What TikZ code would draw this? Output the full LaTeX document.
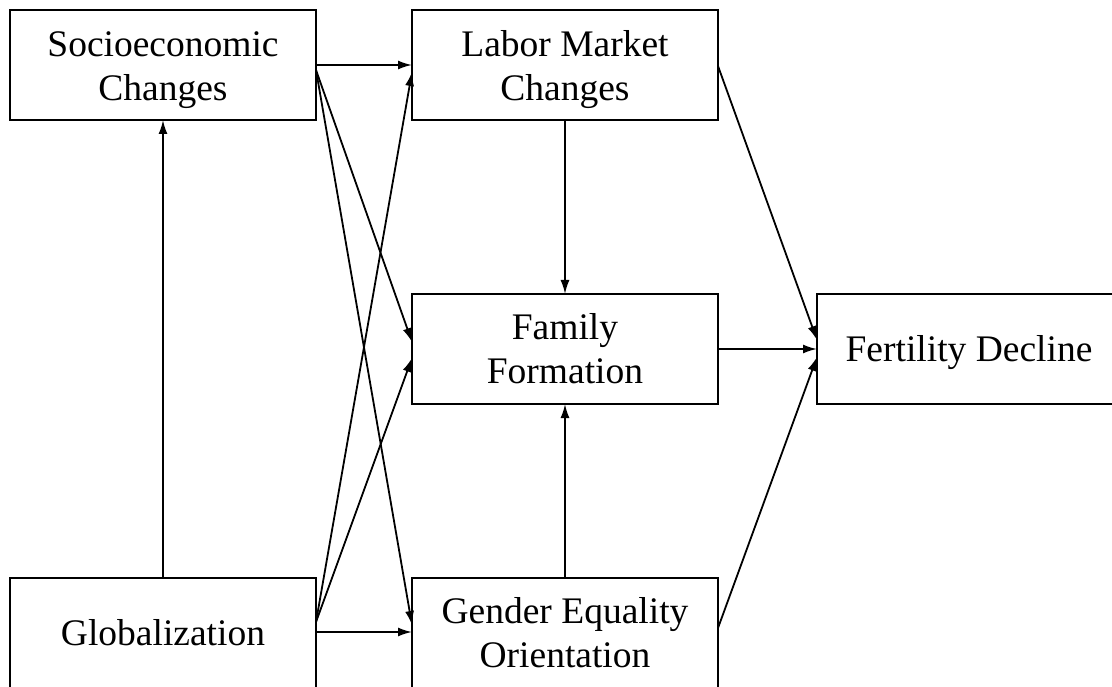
\documentclass[tikz,border=0pt]{standalone}
\usepackage{fontspec}
\setmainfont{Liberation Serif}
\usetikzlibrary{arrows.meta}
\begin{document}
\begin{tikzpicture}[x=1pt,y=-1pt,
  box/.style={draw,line width=2pt,minimum width=306pt,minimum height=110pt,inner sep=0pt,outer sep=0pt},
  boxtext/.style={align=center,inner sep=0pt,font=\fontsize{37.5}{44}\selectfont},
  arr/.style={line width=1.8pt,-{Latex[length=14pt,width=9pt]}}]
\clip (0,0) rectangle (1112,687);
\useasboundingbox (0,0) rectangle (1112,687);
\node[box,label={[boxtext,yshift=-5pt]center:Socioeconomic\\Changes}] (soc) at (163,65) {};
\node[box,label={[boxtext,yshift=-5pt]center:Labor Market\\Changes}] (lab) at (565,65) {};
\node[box,label={[boxtext]center:Family\\Formation}] (fam) at (565,349) {};
\node[box,minimum width=304pt,label={[boxtext,yshift=-4pt]center:Fertility Decline}] (fer) at (969,349) {};
\node[box,label={[boxtext]center:Globalization}] (glo) at (163,633) {};
\node[box,label={[boxtext]center:Gender Equality\\Orientation}] (gen) at (565,633) {};
\draw[arr] (soc.east) -- (lab.west);
\draw[arr] ([yshift=-5pt]soc.east) -- ([yshift=7pt]fam.west);
\draw[arr] ([yshift=-5pt]soc.east) -- ([yshift=8pt]gen.west);
\draw[arr] ([yshift=11pt]glo.east) -- ([yshift=-7pt]lab.west);
\draw[arr] ([yshift=11pt]glo.east) -- ([yshift=-9pt]fam.west);
\draw[arr] ([yshift=1pt]glo.east) -- ([yshift=1pt]gen.west);
\draw[arr] (glo.north) -- (soc.south);
\draw[arr] (lab.south) -- (fam.north);
\draw[arr] (gen.north) -- (fam.south);
\draw[arr] ([yshift=-1pt]lab.east) -- ([yshift=9pt]fer.west);
\draw[arr] (fam.east) -- (fer.west);
\draw[arr] ([yshift=5pt]gen.east) -- ([yshift=-8pt]fer.west);
\end{tikzpicture}
\end{document}
